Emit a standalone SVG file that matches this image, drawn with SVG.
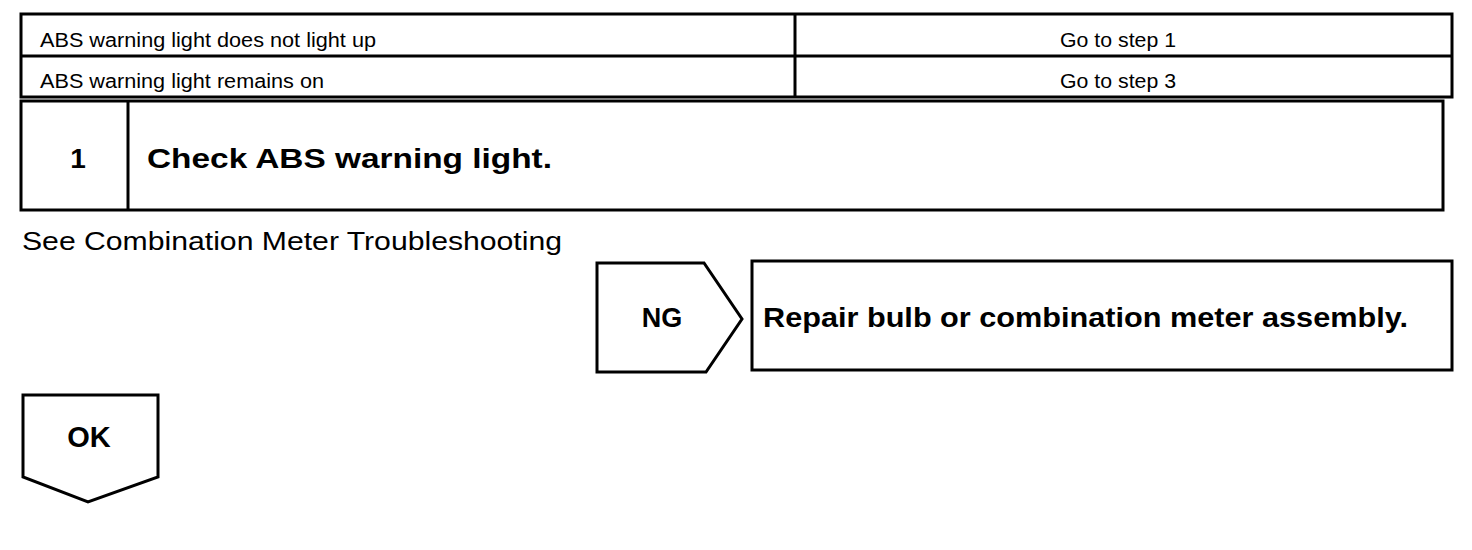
<svg xmlns="http://www.w3.org/2000/svg" width="1472" height="550" viewBox="0 0 1472 550">
<style>
.box{fill:#fff;stroke:#000;stroke-width:3}
.ln{stroke:#000;stroke-width:3;fill:none}
.t{font-family:"Liberation Sans",Arial,sans-serif;fill:#000}
.sm{font-size:20px}
.b{font-weight:bold}
</style>
<rect width="1472" height="550" fill="#fff"/>
<g id="table">
<rect class="box" x="21" y="14" width="1431" height="83"/>
<line class="ln" x1="21" y1="56" x2="1452" y2="56"/>
<line class="ln" x1="795" y1="14" x2="795" y2="97"/>
<text class="t sm" x="40" y="47" textLength="336" lengthAdjust="spacingAndGlyphs">ABS warning light does not light up</text>
<text class="t sm" x="40" y="88" textLength="284" lengthAdjust="spacingAndGlyphs">ABS warning light remains on</text>
<text class="t sm" x="1060" y="47" textLength="116" lengthAdjust="spacingAndGlyphs">Go to step 1</text>
<text class="t sm" x="1060" y="88" textLength="116" lengthAdjust="spacingAndGlyphs">Go to step 3</text>
</g>
<g id="step1">
<rect class="box" x="21" y="101" width="1422" height="109"/>
<line class="ln" x1="128" y1="101" x2="128" y2="210"/>
<text class="t b" x="78" y="168" font-size="28" text-anchor="middle">1</text>
<text class="t b" x="147" y="168" font-size="28" textLength="405" lengthAdjust="spacingAndGlyphs">Check ABS warning light.</text>
</g>
<g id="note">
<text class="t" x="22" y="250" font-size="25" textLength="540" lengthAdjust="spacingAndGlyphs">See Combination Meter Troubleshooting</text>
</g>
<g id="ng">
<polygon class="box" points="597,263 704,263 742,319 706,372 597,372"/>
<text class="t b" x="662" y="327" font-size="27" text-anchor="middle">NG</text>
</g>
<g id="repair">
<rect class="box" x="752" y="261" width="700" height="109"/>
<text class="t b" x="763" y="327" font-size="28" textLength="645" lengthAdjust="spacingAndGlyphs">Repair bulb or combination meter assembly.</text>
</g>
<g id="ok">
<polygon class="box" points="23,395 158,395 158,477 88,502 23,477"/>
<text class="t b" x="89" y="447" font-size="29" text-anchor="middle">OK</text>
</g>
<g id="connectors"></g>
</svg>
